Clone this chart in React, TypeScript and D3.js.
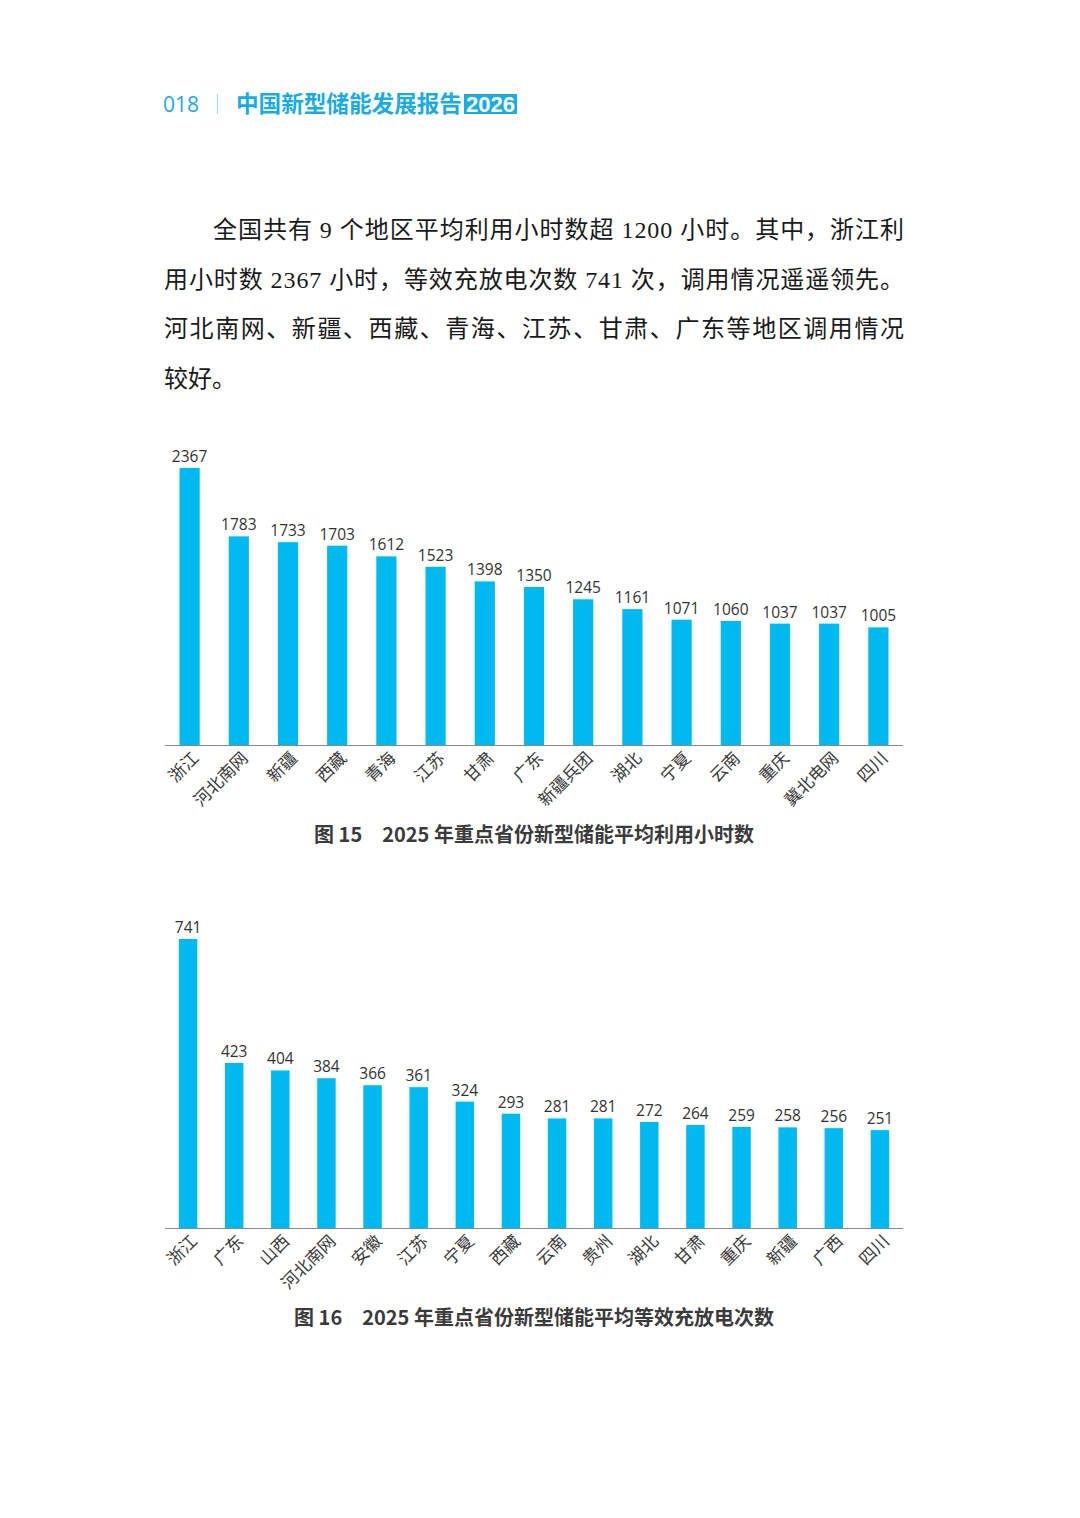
import * as d3 from "d3";
import React from "react";

// ---- data ----
const HOURS_REGIONS = ["浙江", "河北南网", "新疆", "西藏", "青海", "江苏", "甘肃", "广东", "新疆兵团", "湖北", "宁夏", "云南", "重庆", "冀北电网", "四川"];
const HOURS_VALUES = [2367, 1783, 1733, 1703, 1612, 1523, 1398, 1350, 1245, 1161, 1071, 1060, 1037, 1037, 1005];

const CYCLE_REGIONS = ["浙江", "广东", "山西", "河北南网", "安徽", "江苏", "宁夏", "西藏", "云南", "贵州", "湖北", "甘肃", "重庆", "新疆", "广西", "四川"];
const CYCLE_VALUES = [741, 423, 404, 384, 366, 361, 324, 293, 281, 281, 272, 264, 259, 258, 256, 251];

const BODY_LINES = [
  "全国共有 9 个地区平均利用小时数超 1200 小时。其中，浙江利",
  "用小时数 2367 小时，等效充放电次数 741 次，调用情况遥遥领先。",
  "河北南网、新疆、西藏、青海、江苏、甘肃、广东等地区调用情况",
  "较好。",
];

const CAPTION_15 = "图 15　2025 年重点省份新型储能平均利用小时数";
const CAPTION_16 = "图 16　2025 年重点省份新型储能平均等效充放电次数";

const W = 1080;
const H = 1518;
const CYAN = "#1aabe4";
const BAR = "#00b9ef";
const SANS_CJK = "'Noto Sans CJK SC', 'Noto Sans', sans-serif";
const NUM_FONT = "'Open Sans', 'Noto Sans', sans-serif";

function BarChart({
  regions, values, x0, x1, baseY, topY, barFrac,
}: {
  regions: string[]; values: number[]; x0: number; x1: number;
  baseY: number; topY: number; barFrac: number;
}) {
  const pi = 1 - barFrac;
  const x = d3.scaleBand<string>().domain(regions).range([x0, x1])
    .paddingInner(pi).paddingOuter(pi / 2);
  const y = d3.scaleLinear().domain([0, d3.max(values)!]).range([baseY, topY]);

  return (
    <g>
      {regions.map((r, i) => (
        <g key={r + i}>
          <rect x={x(r)!} y={y(values[i])} width={x.bandwidth()} height={baseY - y(values[i])} fill={BAR} />
          <text x={x(r)! + x.bandwidth() / 2} y={y(values[i]) - 6} textAnchor="middle"
            fontFamily={NUM_FONT} fontSize={15.5} fill="#333">{values[i]}</text>
          <text transform={`translate(${x(r)! + x.bandwidth() / 2 + 7},${baseY + 11}) rotate(-45)`}
            textAnchor="end" dominantBaseline="middle"
            fontFamily={SANS_CJK} fontSize={17} fill="#3a3a3a">{r}</text>
        </g>
      ))}
      <line x1={x0} x2={x1} y1={baseY + 0.5} y2={baseY + 0.5} stroke="#8a8a8a" strokeWidth={1.2} />
    </g>
  );
}

export default function App() {
  const bodyX = 164;
  const bodyRight = 904;
  const lineY = [238, 288, 337, 387];

  return (
    <svg width={W} height={H} viewBox={`0 0 ${W} ${H}`}
      style={{ position: "absolute", left: 0, top: 0, background: "#fff", display: "block" }}>
      {/* header */}
      <text x={163} y={112} fontFamily={NUM_FONT} fontSize={21} fill={CYAN}>018</text>
      <line x1={217.5} x2={217.5} y1={94} y2={114} stroke="#9fd8f0" strokeWidth={1} />
      <text x={236} y={112} fontFamily={SANS_CJK} fontSize={22.6} fontWeight={700} fill={CYAN}>中国新型储能发展报告</text>
      <rect x={464} y={94} width={53} height={20} fill={CYAN} />
      <text x={490.5} y={111.5} textAnchor="middle" fontFamily="'Liberation Sans', Arial, sans-serif"
        fontSize={22} fontWeight={700} fill="#fff" textLength={49} lengthAdjust="spacingAndGlyphs">2026</text>

      {/* body text */}
      {BODY_LINES.map((t, i) => {
        const sx = i === 0 ? 213 : bodyX;
        const justify = i < 3;
        return (
          <text key={i} x={sx} y={lineY[i]} fontFamily={`'Liberation Serif', ${SANS_CJK}`} fontSize={24}
            fill="#1a1a1a" {...(justify ? { textLength: bodyRight - sx, lengthAdjust: "spacing" } : {})}>
            {t}
          </text>
        );
      })}

      {/* chart 15 */}
      <BarChart regions={HOURS_REGIONS} values={HOURS_VALUES} x0={165} x1={903} baseY={745} topY={468} barFrac={0.41} />
      <text x={534} y={842} textAnchor="middle" fontFamily={SANS_CJK} fontSize={20} fontWeight={700} fill="#3b3b3b">{CAPTION_15}</text>

      {/* chart 16 */}
      <BarChart regions={CYCLE_REGIONS} values={CYCLE_VALUES} x0={165} x1={903} baseY={1228} topY={939} barFrac={0.4} />
      <text x={534} y={1325} textAnchor="middle" fontFamily={SANS_CJK} fontSize={20} fontWeight={700} fill="#3b3b3b">{CAPTION_16}</text>
    </svg>
  );
}
